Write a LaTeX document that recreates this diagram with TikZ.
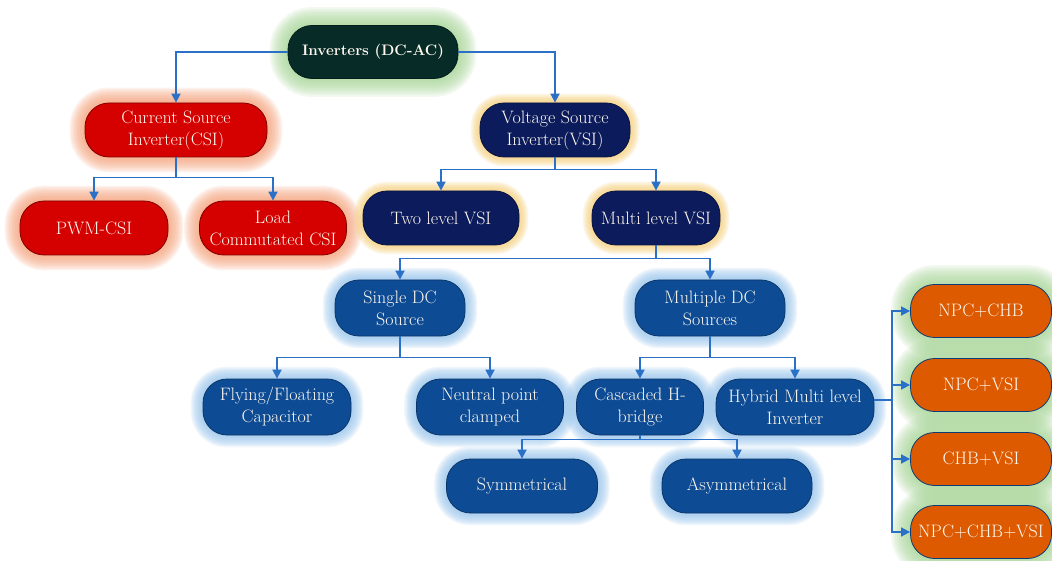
\documentclass[tikz,border=0pt]{standalone}
\usepackage{fontspec}
\usetikzlibrary{arrows.meta,backgrounds,calc}
\definecolor{topfill}{HTML}{072B27}
\definecolor{greenglow}{HTML}{A6D695}
\definecolor{redfill}{HTML}{D50000}
\definecolor{redglow}{HTML}{F7A27A}
\definecolor{navyfill}{HTML}{0B1B5B}
\definecolor{yellowglow}{HTML}{F8D27E}
\definecolor{bluefill}{HTML}{0D4B95}
\definecolor{blueglow}{HTML}{98C6EE}
\definecolor{orangefill}{HTML}{DD5A00}
\definecolor{conn}{HTML}{2A70C6}
\definecolor{txt}{HTML}{FFF8EE}
\newcommand\glowat[3]{%
  \foreach \i in {1,...,10}{%
    \draw[draw=#2, line width={#3*\i/10*1pt}, opacity=0.13, rounded corners=24pt]
      (#1.north west) rectangle (#1.south east);}}
\begin{document}
\begin{tikzpicture}[x=1pt,y=-1pt,
  box/.style={rectangle, rounded corners=24pt, minimum height=54pt, inner sep=0pt,
    text=txt, align=center, line width=0.8pt, font=\fontsize{18}{22}\selectfont},
  redbox/.style={box, fill=redfill, draw=redfill!60!black},
  navybox/.style={box, fill=navyfill, draw=navyfill!70!black},
  bluebox/.style={box, fill=bluefill, draw=bluefill!70!black, minimum height=56pt},
  orangebox/.style={box, fill=orangefill, draw=bluefill!80!black, minimum width=141pt, minimum height=53pt},
  line/.style={draw=conn, line width=1.7pt},
  arr/.style={line, -{Triangle[length=9pt,width=9pt]}}]
\useasboundingbox (0,0) rectangle (1052,561);

\node[box, fill=topfill, draw=topfill!70!black, minimum width=170pt, minimum height=53pt,
  font=\bfseries\fontsize{15.2}{20}\selectfont] (top) at (373,52) {Inverters (DC-AC)};
\node[redbox, minimum width=182pt] (csi) at (176,130) {Current Source\\Inverter(CSI)};
\node[navybox, minimum width=150pt] (vsi) at (555,130) {Voltage Source\\Inverter(VSI)};
\node[redbox, minimum width=148pt] (pwm) at (94,228) {PWM-CSI};
\node[redbox, minimum width=147pt] (lcc) at (273,228) {Load\\Commutated CSI};
\node[navybox, minimum width=156pt] (two) at (441,218) {Two level VSI};
\node[navybox, minimum width=128pt] (mlv) at (656,218) {Multi level VSI};
\node[bluebox, minimum width=130pt] (single) at (400,308) {Single DC\\Source};
\node[bluebox, minimum width=150pt] (multiple) at (710,308) {Multiple DC\\Sources};
\node[bluebox, minimum width=148pt] (flying) at (277,407) {Flying/Floating\\Capacitor};
\node[bluebox, minimum width=147pt] (npc) at (490,407) {Neutral point\\clamped};
\node[bluebox, minimum width=127pt] (chb) at (640,407) {Cascaded H-\\bridge};
\node[bluebox, minimum width=158pt] (hyb) at (795,407) {Hybrid Multi level\\Inverter};
\node[bluebox, minimum width=151pt, minimum height=54pt] (sym) at (522,486) {Symmetrical};
\node[bluebox, minimum width=150pt, minimum height=54pt] (asym) at (737,486) {Asymmetrical};
\node[orangebox] (o1) at (981,311) {NPC+CHB};
\node[orangebox] (o2) at (981,385) {NPC+VSI};
\node[orangebox] (o3) at (981,459) {CHB+VSI};
\node[orangebox] (o4) at (981,532) {NPC+CHB+VSI};

\begin{scope}[on background layer]
  \fill[white] (0,0) rectangle (1052,561);
  \glowat{top}{greenglow}{36}
  \glowat{csi}{redglow}{30}
  \glowat{pwm}{redglow}{30}
  \glowat{lcc}{redglow}{30}
  \glowat{vsi}{yellowglow}{18}
  \glowat{two}{yellowglow}{18}
  \glowat{mlv}{yellowglow}{18}
  \foreach \n in {single,multiple,flying,npc,chb,hyb,sym,asym}{\glowat{\n}{blueglow}{24}}
  \foreach \n in {o1,o2,o3,o4}{\glowat{\n}{greenglow}{38}}
\end{scope}

\draw[arr] (top.west) -| (csi.north);
\draw[arr] (top.east) -| (vsi.north);

\coordinate (j1) at ($(csi.south)+(0,20)$);
\draw[line] (csi.south) -- (j1);
\draw[arr] (j1) -| (pwm.north);
\draw[arr] (j1) -| (lcc.north);

\coordinate (j2) at ($(vsi.south)+(0,12)$);
\draw[line] (vsi.south) -- (j2);
\draw[arr] (j2) -| (two.north);
\draw[arr] (j2) -| (mlv.north);

\coordinate (j3) at ($(mlv.south)+(0,13)$);
\draw[line] (mlv.south) -- (j3);
\draw[arr] (j3) -| (single.north);
\draw[arr] (j3) -| (multiple.north);

\coordinate (j4) at ($(single.south)+(0,21)$);
\draw[line] (single.south) -- (j4);
\draw[arr] (j4) -| (flying.north);
\draw[arr] (j4) -| (npc.north);

\coordinate (j5) at ($(multiple.south)+(0,21)$);
\draw[line] (multiple.south) -- (j5);
\draw[arr] (j5) -| (chb.north);
\draw[arr] (j5) -| (hyb.north);

\coordinate (j6) at ($(chb.south)+(0,4)$);
\draw[line] (chb.south) -- (j6);
\draw[arr] (j6) -| (sym.north);
\draw[arr] (j6) -| (asym.north);

\coordinate (hub) at (892,400);
\draw[line] (hyb.east |- hub) -- (hub);
\draw[arr] (hub) |- (o1.west);
\draw[arr] (hub) |- (o2.west);
\draw[arr] (hub) |- (o3.west);
\draw[arr] (hub) |- (o4.west);
\end{tikzpicture}
\end{document}
